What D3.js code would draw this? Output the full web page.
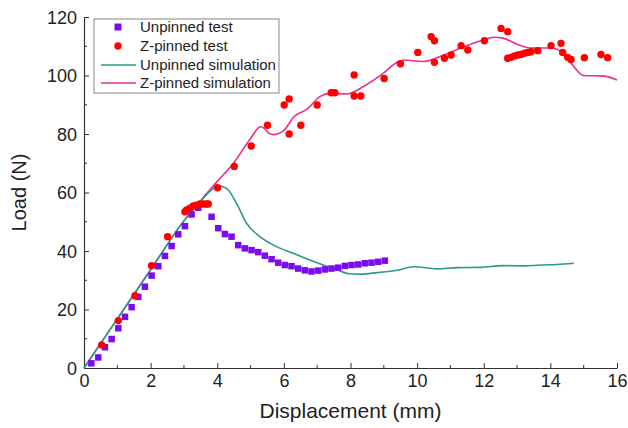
<!DOCTYPE html>
<html><head><meta charset="utf-8">
<script src="https://cdn.jsdelivr.net/npm/d3@7"></script>
<style>
html,body{margin:0;padding:0;background:#fff;}
svg{display:block;font-family:"Liberation Sans",Arial,sans-serif;}
</style></head>
<body><svg id="chart" width="628" height="428"></svg>
<script>
// Unpinned test (squares)
const unpinnedTestX = [0.22,0.43,0.63,0.83,1.03,1.23,1.43,1.63,1.83,2.03,2.23,2.43,2.63,2.83,3.03,3.23,3.43,3.63,3.83,4.03,4.23,4.43,4.63,4.83,5.03,5.23,5.43,5.63,5.83,6.03,6.23,6.43,6.63,6.83,7.03,7.23,7.43,7.63,7.83,8.03,8.23,8.43,8.63,8.83,9.03];
const unpinnedTestY = [1.6,3.6,7.1,9.9,13.6,17.5,20.8,24.3,27.8,31.6,34.8,38.3,41.7,45.7,48.5,52.5,54.8,56.0,51.7,47.8,45.8,44.9,42.0,40.9,40.3,39.6,38.4,37.2,36.0,35.2,34.8,34.0,33.4,33.0,33.3,33.7,34.0,34.3,34.9,35.2,35.4,35.8,36.0,36.3,36.7];
// Z-pinned test (circles)
const zpinnedTestX = [0.53,1.03,1.53,2.03,2.51,3.03,3.08,3.18,3.28,3.38,3.48,3.58,3.68,3.73,4.01,4.51,5.02,5.51,6.01,6.16,6.16,6.51,7.00,7.42,7.53,8.11,8.11,8.31,9.01,9.50,10.02,10.42,10.52,10.52,10.82,11.02,11.32,11.52,12.02,12.52,12.72,12.72,12.82,12.92,13.02,13.12,13.22,13.32,13.42,13.62,14.02,14.32,14.37,14.52,14.62,15.02,15.52,15.72];
const zpinnedTestY = [7.9,16.2,24.7,35.0,44.9,53.4,54.0,54.6,55.4,55.7,56.1,56.1,56.1,56.1,61.6,68.9,75.9,83.0,89.9,92.0,80.0,83.0,89.9,94.1,94.1,100.2,93.0,93.0,99.0,104.0,107.9,113.3,111.9,104.5,105.9,107.0,110.2,108.7,111.9,116.1,115.0,105.9,106.2,106.7,107.0,107.2,107.6,107.9,108.1,108.5,110.2,111.0,107.9,106.2,105.5,106.1,107.2,106.1];
// Unpinned simulation
const unpinnedSimX = [0,1,2,3,3.5,3.8,4.03,4.28,4.58,4.88,5.28,5.78,6.28,6.78,7.18,7.58,7.98,8.3,8.8,9.4,9.9,10.6,11.2,11.9,12.6,13.2,13.7,14.2,14.7];
const unpinnedSimY = [0,16.8,33.6,50.3,57.0,60.6,62.3,61.4,56.3,49.5,44.9,41.5,39.2,36.9,35.2,33.7,32.2,32.1,32.6,33.4,34.6,33.9,34.3,34.4,35.0,34.9,35.2,35.4,35.8];
// Z-pinned simulation
const zpinnedSimX = [0,1,2,3,3.5,4.0,4.5,5.0,5.3,5.4,5.55,5.7,6.0,6.3,6.7,7.08,7.4,7.9,8.4,8.98,9.4,9.6,10.2,10.8,11.4,12.0,12.3,12.6,13.0,13.4,14.0,14.2,14.6,15.0,15.6,16.0];
const zpinnedSimY = [0,16.8,33.6,50.3,57.2,63.8,70.2,78.5,82.5,82.0,80.3,79.8,81.2,85.9,88.5,92.8,93.9,93.7,96.3,100.7,104.5,105.3,104.8,107.0,109.8,112.2,113.1,112.7,110.7,109.4,109.4,109.0,104.5,100.0,99.8,98.5];

const xTicks = [0,2,4,6,8,10,12,14,16];
const yTicks = [0,20,40,60,80,100,120];
const seriesNames = ["Unpinned test","Z-pinned test","Unpinned simulation","Z-pinned simulation"];
const colors = {usq:"#7b0cf0", zdot:"#ff0000", usim:"#2a9a8c", zsim:"#ec2f8c"};

const svg = d3.select("#chart");
const m = {left:84, top:17, right:11, bottom:60};
const W = 628, H = 428;
const x = d3.scaleLinear().domain([0,16]).range([m.left, W-m.right]);
const y = d3.scaleLinear().domain([0,120]).range([H-m.bottom, m.top]);
const axisColor = "#333";

// minor ticks
const xMinor = d3.range(1,16,2), yMinor = d3.range(10,120,20);
const gx = svg.append("g").attr("transform",`translate(0,${y(0)})`)
  .call(d3.axisBottom(x).tickValues(xTicks).tickSizeInner(-5).tickSizeOuter(0).tickPadding(4).tickFormat(d3.format("d")));
gx.append("g").selectAll("line").data(xMinor).join("line")
  .attr("x1",d=>x(d)).attr("x2",d=>x(d)).attr("y1",0).attr("y2",-3).attr("stroke",axisColor);
const gy = svg.append("g").attr("transform",`translate(${x(0)},0)`)
  .call(d3.axisLeft(y).tickValues(yTicks).tickSizeInner(-5).tickSizeOuter(0).tickPadding(7).tickFormat(d3.format("d")));
gy.append("g").selectAll("line").data(yMinor).join("line")
  .attr("y1",d=>y(d)).attr("y2",d=>y(d)).attr("x1",0).attr("x2",3).attr("stroke",axisColor);
[gx,gy].forEach(g=>{
  g.selectAll(".domain").attr("stroke",axisColor).attr("stroke-width",1.2);
  g.selectAll(".tick line").attr("stroke",axisColor);
  g.selectAll(".tick text").attr("font-size",18).attr("fill","#222").attr("font-family","Liberation Sans, Arial, sans-serif");
});
gx.selectAll(".tick text").attr("dy","0.85em");
gy.selectAll(".tick text").attr("dy","0.35em");

svg.append("text").attr("x",(x(0)+x(16))/2).attr("y",418).attr("text-anchor","middle")
  .attr("font-size",21).attr("fill","#222").text("Displacement (mm)");
svg.append("text").attr("transform",`translate(26,${(y(0)+y(120))/2}) rotate(-90)`).attr("text-anchor","middle")
  .attr("font-size",20).attr("fill","#222").text("Load (N)");

const line = d3.line().x(d=>x(d[0])).y(d=>y(d[1])).curve(d3.curveMonotoneX);
svg.append("path").datum(d3.zip(zpinnedSimX,zpinnedSimY)).attr("d",line)
  .attr("fill","none").attr("stroke",colors.zsim).attr("stroke-width",1.6);
svg.append("path").datum(d3.zip(unpinnedSimX,unpinnedSimY)).attr("d",line)
  .attr("fill","none").attr("stroke",colors.usim).attr("stroke-width",1.6);

const sq = 6.5;
svg.append("g").selectAll("rect").data(d3.zip(unpinnedTestX,unpinnedTestY)).join("rect")
  .attr("x",d=>x(d[0])-sq/2).attr("y",d=>y(d[1])-sq/2).attr("width",sq).attr("height",sq).attr("fill",colors.usq);
svg.append("g").selectAll("circle").data(d3.zip(zpinnedTestX,zpinnedTestY)).join("circle")
  .attr("cx",d=>x(d[0])).attr("cy",d=>y(d[1])).attr("r",3.7).attr("fill",colors.zdot);

// legend
const lg = svg.append("g");
lg.append("rect").attr("x",94).attr("y",19).attr("width",185).attr("height",74)
  .attr("fill","#fff").attr("stroke","#888").attr("stroke-width",1);
const rows = [27,46,65,83];
lg.append("rect").attr("x",118-3.5).attr("y",rows[0]-3.5).attr("width",7).attr("height",7).attr("fill",colors.usq);
lg.append("circle").attr("cx",118).attr("cy",rows[1]).attr("r",3.7).attr("fill",colors.zdot);
lg.append("line").attr("x1",101).attr("x2",136).attr("y1",rows[2]).attr("y2",rows[2]).attr("stroke",colors.usim).attr("stroke-width",1.6);
lg.append("line").attr("x1",101).attr("x2",136).attr("y1",rows[3]).attr("y2",rows[3]).attr("stroke",colors.zsim).attr("stroke-width",1.6);
lg.selectAll("text.l").data(seriesNames).join("text").attr("class","l")
  .attr("x",140).attr("y",(d,i)=>rows[i]).attr("dy","0.35em").attr("font-size",15).attr("fill","#222").text(d=>d);
</script></body></html>
